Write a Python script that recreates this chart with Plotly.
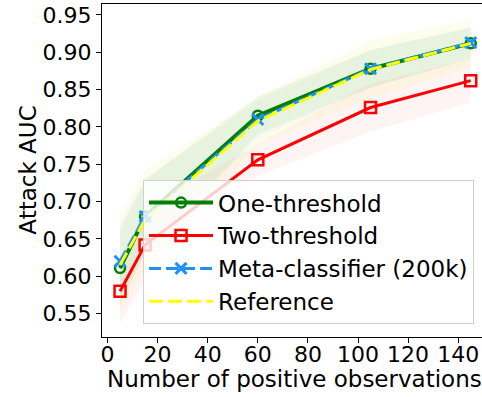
import plotly.graph_objects as go

# Number of positive observations
n_pos = [5, 15, 60, 105, 145]

# Mean attack AUC per method
one_threshold = [0.611, 0.680, 0.815, 0.878, 0.912]
two_threshold = [0.580, 0.642, 0.756, 0.826, 0.862]
meta_classifier = [0.620, 0.680, 0.810, 0.878, 0.913]
reference = [0.615, 0.676, 0.808, 0.877, 0.912]

# Standard deviation across runs (shaded bands)
one_threshold_std = [0.050, 0.050, 0.025, 0.025, 0.021]
two_threshold_std = [0.042, 0.048, 0.022, 0.032, 0.029]
meta_classifier_std = [0.050, 0.050, 0.025, 0.025, 0.021]
reference_std = [0.064, 0.066, 0.032, 0.038, 0.032]

bands = [
    (one_threshold, one_threshold_std, "rgba(0,128,0,0.06)"),
    (two_threshold, two_threshold_std, "rgba(255,0,0,0.045)"),
    (meta_classifier, meta_classifier_std, "rgba(30,144,255,0.035)"),
    (reference, reference_std, "rgba(220,235,60,0.09)"),
]

FONT = "DejaVu Sans"
FS = 22
TITLE_FS = 23
LEGEND_FS = 23
fig = go.Figure()

# Shaded bands first, so the lines sit on top
for mean, std, fill in bands:
    upper = [m + s for m, s in zip(mean, std)]
    lower = [m - s for m, s in zip(mean, std)]
    fig.add_trace(go.Scatter(
        x=n_pos + n_pos[::-1], y=upper + lower[::-1],
        fill="toself", fillcolor=fill, line=dict(width=0),
        mode="lines", showlegend=False, hoverinfo="skip",
    ))

fig.add_trace(go.Scatter(
    x=n_pos, y=one_threshold, name="One-threshold", mode="lines+markers",
    legendgroup="a",
    line=dict(color="green", width=4),
    marker=dict(symbol="circle-open", size=10, color="green", line=dict(width=2.5, color="green")),
))
fig.add_trace(go.Scatter(
    x=n_pos, y=two_threshold, name="Two-threshold", mode="lines+markers",
    legendgroup="b",
    line=dict(color="red", width=3),
    marker=dict(symbol="square-open", size=11, color="red", line=dict(width=2.5, color="red")),
))
fig.add_trace(go.Scatter(
    x=n_pos, y=meta_classifier, name="Meta-classifier (200k)", mode="lines+markers",
    legendgroup="c",
    line=dict(color="dodgerblue", width=3, dash="12px,5px"),
    marker=dict(symbol="x-thin-open", size=11, color="dodgerblue", line=dict(width=3, color="dodgerblue")),
))
fig.add_trace(go.Scatter(
    x=n_pos, y=reference, name="Reference", mode="lines",
    legendgroup="d",
    line=dict(color="yellow", width=3, dash="14px,5px"),
))

axis_common = dict(
    showline=True, linecolor="black", linewidth=1,
    ticks="outside", ticklen=5, tickwidth=1, tickcolor="black",
    showgrid=False, zeroline=False,
    tickfont=dict(family=FONT, size=FS, color="black"),
)

fig.update_xaxes(
    range=[-2.2, 149.5], tickvals=[0, 20, 40, 60, 80, 100, 120, 140],
    mirror=True, ticklabelstandoff=-7, **axis_common,
)
fig.update_yaxes(
    range=[0.5186, 0.9647], tickvals=[0.55, 0.60, 0.65, 0.70, 0.75, 0.80, 0.85, 0.90, 0.95],
    tickformat=".2f", **axis_common,
)

# Axis titles
fig.add_annotation(
    text="Number of positive observations", xref="paper", yref="paper",
    x=0.5066, y=-0.126, xanchor="center", yanchor="middle", showarrow=False,
    font=dict(family=FONT, size=TITLE_FS, color="black"),
)
fig.add_annotation(
    text="Attack AUC", xref="paper", yref="paper", textangle=-90,
    x=-0.197, y=0.5, xanchor="center", yanchor="middle", showarrow=False,
    font=dict(family=FONT, size=TITLE_FS, color="black"),
)

fig.update_layout(
    width=482, height=397,
    margin=dict(l=102, r=0, t=4, b=60),
    paper_bgcolor="white", plot_bgcolor="white",
    font=dict(family=FONT, size=FS, color="black"),
    legend=dict(
        x=0.108, y=0.471, xanchor="left", yanchor="top",
        bgcolor="rgba(255,255,255,0.8)", bordercolor="#d0d0d0", borderwidth=1,
        font=dict(family=FONT, size=LEGEND_FS, color="black"),
        tracegroupgap=0, itemwidth=64,
    ),
)

fig.write_html("out.html")
